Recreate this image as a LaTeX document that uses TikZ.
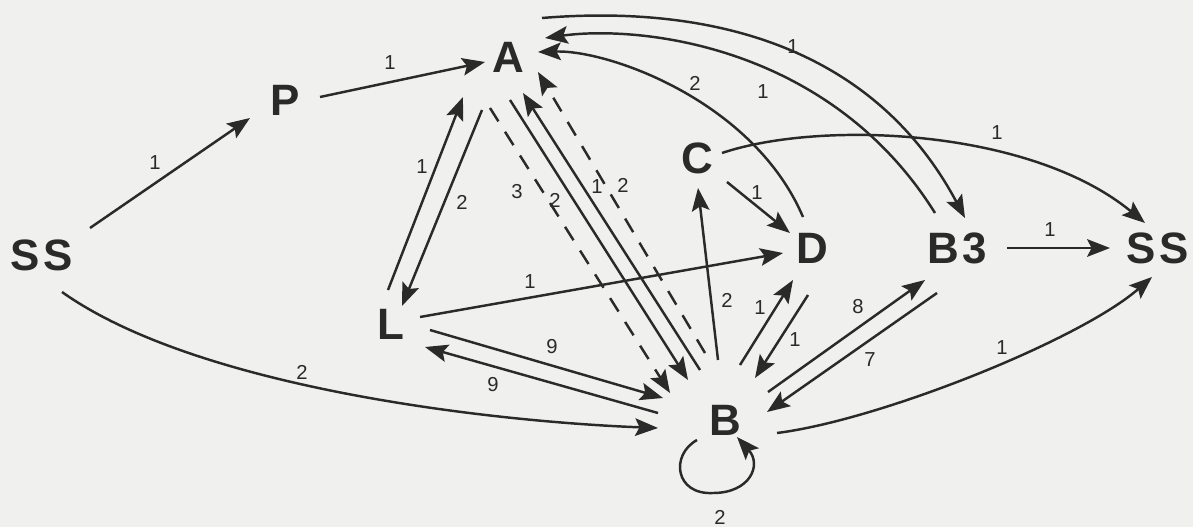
\documentclass[tikz,border=0pt]{standalone}
\usepackage{fontspec}
\setmainfont{Liberation Sans}
\usepackage{tikz}
\usetikzlibrary{arrows.meta,calc}
\definecolor{ink}{HTML}{2A2A2A}
\definecolor{paper}{HTML}{F0F0EE}

\begin{document}
\begin{tikzpicture}[x=0.02cm,y=-0.02cm,
  state/.style={ink,font=\fontsize{25}{25}\selectfont\bfseries,inner sep=0pt},
  wt/.style={ink,font=\fontsize{11.5}{11.5}\selectfont,inner sep=0pt},
  link/.style={ink,line width=1.4pt,-{Stealth[length=13pt,width=10pt,inset=2.5pt]}},
  dlink/.style={link,dash pattern=on 9pt off 7pt}]
  \fill[paper] (0,0) rectangle (1193,527);
  % states
  \node[state] (SSl) at (42,255) {S\kern2pt S};
  \node[state] (P) at (285,100) {P};
  \node[state] (A) at (508,57) {A};
  \node[state] (L) at (391,324) {L};
  \node[state] (C) at (697,158) {C};
  \node[state] (D) at (812,248) {D};
  \node[state] (B3) at (957,248) {B\kern2pt 3};
  \node[state] (SSr) at (1158,248) {S\kern2pt S};
  \node[state] (B) at (725,420) {B};
  % left part
  \draw[link] ($(SSl)+(48,-27)$) -- ($(P)+(-35,18)$) node[wt] at (155,163) {1};
  \draw[link] ($(SSl)+(20,37)$) .. controls (200,390) and (500,422) .. ($(B)+(-67,8)$)
    node[wt] at (302,372) {2};
  \draw[link] ($(P)+(35,-3)$) -- ($(A)+(-23,5)$) node[wt] at (390,63) {1};
  \draw[link] ($(L)+(-3,-34)$) -- ($(A)+(-45,40)$) node[wt] at (422,167) {1};
  \draw[link] ($(A)+(-26,53)$) -- ($(L)+(11,-18)$) node[wt] at (462,202) {2};
  % A and B
  \draw[dlink] ($(A)+(-18,51)$) -- ($(B)+(-55,-27)$) node[wt] at (517,192) {3};
  \draw[link] ($(A)+(2,43)$) -- ($(B)+(-37,-40)$) node[wt] at (555,200) {2};
  \draw[link] ($(B)+(-25,-50)$) -- ($(A)+(15,36)$) node[wt] at (597,187) {1};
  \draw[dlink] ($(B)+(-20,-67)$) -- ($(A)+(30,15)$) node[wt] at (623,185) {2};
  % L, C, D
  \draw[link] ($(L)+(29,-7)$) -- ($(D)+(-29,5)$) node[wt] at (530,282) {1};
  \draw[link] ($(L)+(39,6)$) -- ($(B)+(-62,-22)$) node[wt] at (552,347) {9};
  \draw[link] ($(B)+(-67,-7)$) -- ($(L)+(34,23)$) node[wt] at (493,385) {9};
  \draw[link] ($(B)+(-7,-60)$) -- ($(C)+(1,30)$) node[wt] at (727,300) {2};
  \draw[link] ($(C)+(30,24)$) -- ($(D)+(-22,-15)$) node[wt] at (757,193) {1};
  \draw[link] ($(B)+(15,-55)$) -- ($(D)+(-19,32)$) node[wt] at (760,308) {1};
  \draw[link] ($(D)+(-4,47)$) -- ($(B)+(30,-42)$) node[wt] at (795,340) {1};
  % upper arcs
  \draw[link] ($(D)+(-9,-31)$) .. controls (754,102) and (610,50) .. ($(A)+(30,-5)$)
    node[wt] at (695,83) {2};
  \draw[link] ($(B3)+(-22,-35)$) .. controls (830,45) and (640,25) .. ($(A)+(37,-19)$)
    node[wt] at (763,92) {1};
  \draw[link] ($(A)+(34,-39)$) .. controls (700,5) and (870,40) .. ($(B3)+(8,-30)$)
    node[wt] at (793,47) {1};
  % right part
  \draw[link] ($(C)+(25,-5)$) .. controls (820,120) and (1030,128) .. ($(SSr)+(-13,-25)$)
    node[wt] at (997,133) {1};
  \draw[link] ($(B3)+(50,0)$) -- ($(SSr)+(-48,0)$) node[wt] at (1050,230) {1};
  \draw[link] ($(B)+(43,-28)$) -- ($(B3)+(-32,32)$) node[wt] at (858,307) {8};
  \draw[link] ($(B3)+(-20,45)$) -- ($(B)+(42,-8)$) node[wt] at (870,360) {7};
  \draw[link] ($(B)+(52,13)$) .. controls (880,420) and (1080,340) .. ($(SSr)+(-6,29)$)
    node[wt] at (1002,348) {1};
  % self loop
  \draw[link] ($(B)+(-28,20)$) .. controls (670,455) and (675,495) .. (713,493)
    .. controls (750,493) and (762,465) .. ($(B)+(12,17)$) node[wt] at (720,517) {2};
\end{tikzpicture}
\end{document}
